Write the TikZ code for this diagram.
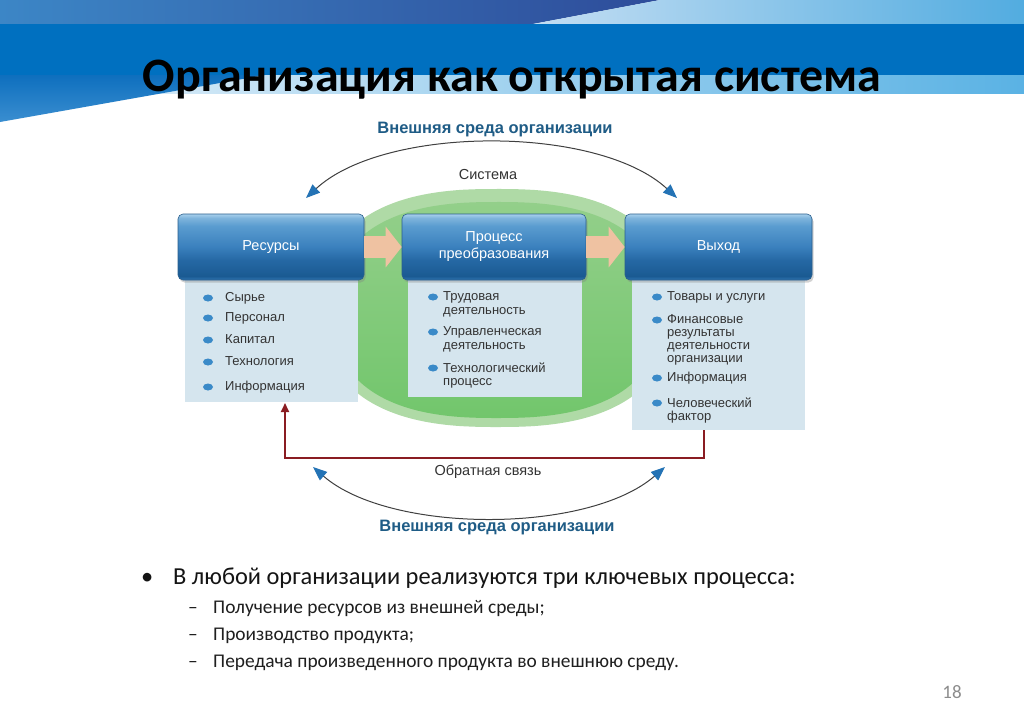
\documentclass[tikz,border=0pt]{standalone}
\usepackage{fontspec}
\setmainfont{Carlito}
\newfontfamily\arialf{Liberation Sans}
\usetikzlibrary{arrows.meta,shadows}
\definecolor{bandblue}{HTML}{0070C0}
\definecolor{topdarkL}{HTML}{3C86C6}
\definecolor{topdarkR}{HTML}{2E4C9A}
\definecolor{toplightL}{HTML}{C4DEF3}
\definecolor{toplightR}{HTML}{52ACE0}
\definecolor{stripL}{HTML}{E8F2FA}
\definecolor{stripR}{HTML}{5AB2E4}
\definecolor{triTop}{HTML}{0E6FBE}
\definecolor{triBot}{HTML}{3A8ED0}
\definecolor{envc}{HTML}{1F5C86}
\definecolor{arrowblue}{HTML}{2473B5}
\definecolor{greenrim}{HTML}{AFDAA6}
\definecolor{greentop}{HTML}{93CF8A}
\definecolor{greenbot}{HTML}{72C66C}
\definecolor{panelc}{HTML}{D5E5EE}
\definecolor{hdrline}{HTML}{2A5E8C}
\definecolor{hA}{HTML}{2E74B0}
\definecolor{hB}{HTML}{1A5A92}
\definecolor{hC}{HTML}{2568A4}
\definecolor{hD}{HTML}{3A80BD}
\definecolor{hE}{HTML}{5A9CD0}
\definecolor{hF}{HTML}{7FB4DC}
\definecolor{hG}{HTML}{A8D0EC}
\definecolor{peach}{HTML}{EFC2A2}
\definecolor{fbred}{HTML}{8A1C22}
\definecolor{txtc}{HTML}{333333}
\definecolor{bulc}{HTML}{3A8AC8}
\definecolor{pgnum}{HTML}{8C8C8C}
\pgfdeclareverticalshading{hdrshade}{100bp}{color(0bp)=(hA); color(25bp)=(hA); color(28bp)=(hB); color(40bp)=(hC); color(50bp)=(hD); color(66bp)=(hE); color(72bp)=(hF); color(75bp)=(hG); color(100bp)=(hG)}
\begin{document}
\begin{tikzpicture}[x=1pt,y=-1pt,
  hdr/.style={rounded corners=5pt, shade, shading=hdrshade, draw=hdrline, line width=0.6pt,
    minimum height=66pt, text=white, font=\arialf\fontsize{14.5}{17}\selectfont, align=center,
    drop shadow={shadow xshift=1.5pt,shadow yshift=-2.5pt,opacity=0.35}},
  panel/.style={fill=panelc, inner sep=0pt, draw=none},
  item/.style={font=\arialf\fontsize{13}{13.8}\selectfont, text=txtc, align=left, anchor=north west, inner sep=0pt},
  bul/.style={fill=bulc},
  envlbl/.style={font=\arialf\bfseries\fontsize{16.5}{18}\selectfont, text=envc},
  sublbl/.style={font=\arialf\fontsize{14.5}{16}\selectfont, text=txtc},
  envarc/.style={draw=black!75, line width=1pt,
    {Triangle[length=14pt,width=11pt,color=arrowblue]}-{Triangle[length=14pt,width=11pt,color=arrowblue]}},
  flow/.style={peach, line width=22pt, -{Triangle[length=16pt,width=40pt]}},
  fb/.style={fbred, line width=2pt, -{Triangle[length=9pt,width=8pt]}},
  mainb/.style={font=\fontsize{24.4}{28}\selectfont, text=black!92, anchor=base west, inner sep=0pt},
  subb/.style={font=\fontsize{19.4}{23}\selectfont, text=black!88, anchor=base west, inner sep=0pt}
]
\useasboundingbox (0,0) rectangle (1024,725);
\fill[white] (0,0) rectangle (1024,725);
% header
\shade[left color=topdarkL, right color=topdarkR] (0,0) -- (660,0) -- (533,24) -- (0,24) -- cycle;
\shade[left color=toplightL, right color=toplightR] (660,0) -- (1024,0) -- (1024,24) -- (533,24) -- cycle;
\fill[bandblue] (0,24) rectangle (1024,75);
\shade[left color=stripL, right color=stripR] (0,75) rectangle (1024,93);
\shade[top color=triTop, bottom color=triBot] (0,75) -- (265,75) -- (0,122) -- cycle;
\node[font=\bfseries\fontsize{48}{56}\selectfont, anchor=base, inner sep=0pt] (title) at (512,91) {Организация как открытая система};

% green system area (rounded superellipse)
\fill[greenrim] plot[domain=0.5:360.5, samples=181, smooth cycle]
  ({497+175*sign(cos(\x))*pow(abs(cos(\x)),0.8)}, {308+119*sign(sin(\x))*pow(abs(sin(\x)),0.8)});
\shade[top color=greentop, bottom color=greenbot] plot[domain=0.5:360.5, samples=181, smooth cycle]
  ({497+164*sign(cos(\x))*pow(abs(cos(\x)),0.8)}, {310+108*sign(sin(\x))*pow(abs(sin(\x)),0.8)});

% panels
\node[panel, minimum width=173pt, minimum height=132pt, anchor=north west] (resp) at (185,270) {};
\node[panel, minimum width=174pt, minimum height=127pt, anchor=north west] (procp) at (408,270) {};
\node[panel, minimum width=173pt, minimum height=160pt, anchor=north west] (outp) at (632,270) {};

% header boxes
\node[hdr, minimum width=186pt] (res) at (271,247) {Ресурсы};
\node[hdr, minimum width=184pt] (proc) at (494,247) {Процесс\\преобразования};
\node[hdr, minimum width=187pt] (out) at (718.5,247) {Выход};

% flow arrows
\draw[flow] (res.east) -- (proc.west);
\draw[flow] (proc.east) -- (out.west);

% left items
\foreach \yy/\tt in {298/Сырье, 318/Персонал, 340/Капитал, 362/Технология, 387/Информация}{
  \fill[bul] (208,\yy) ellipse [x radius=5pt, y radius=3.5pt];
  \node[item] at (225,\yy-5.8) {\tt};
}
% middle items
\fill[bul] (433,297) ellipse [x radius=5pt, y radius=3.5pt];
\node[item] (m1) at (443,297-5.8) {Трудовая\\деятельность};
\fill[bul] (433,332) ellipse [x radius=5pt, y radius=3.5pt];
\node[item] (m2) at (443,332-5.8) {Управленческая\\деятельность};
\fill[bul] (433,368) ellipse [x radius=5pt, y radius=3.5pt];
\node[item] (m3) at (443,368-5.8) {Технологический\\процесс};
% right items
\fill[bul] (657,297) ellipse [x radius=5pt, y radius=3.5pt];
\node[item] (r1) at (667,297-5.8) {Товары и услуги};
\fill[bul] (657,320) ellipse [x radius=5pt, y radius=3.5pt];
\node[item, font=\arialf\fontsize{13}{13}\selectfont] (r2) at (667,320-5.8) {Финансовые\\результаты\\деятельности\\организации};
\fill[bul] (657,378) ellipse [x radius=5pt, y radius=3.5pt];
\node[item] (r3) at (667,378-5.8) {Информация};
\fill[bul] (657,403) ellipse [x radius=5pt, y radius=3.5pt];
\node[item] (r4) at (667,403-5.8) {Человеческий\\фактор};

% feedback
\coordinate (fbR) at (704,430);
\coordinate (fbL) at (285,403);
\draw[fb] (fbR) |- (285,458) -- (fbL);
\node[sublbl] (fbl) at (488,472) {Обратная связь};

% environment arcs
\node[envlbl] (envtop) at (495,130) {Внешняя среда организации};
\node[sublbl] (sys) at (488,175) {Система};
\coordinate (tl) at (306,198);
\coordinate (tr) at (677,198);
\draw[envarc] (tl) .. controls (385,125) and (598,125) .. (tr);
\coordinate (bl) at (313,467);
\coordinate (br) at (665,467);
\draw[envarc] (bl) .. controls (390,534) and (588,534) .. (br);
\node[envlbl] (envbot) at (497,528) {Внешняя среда организации};

% bullet text
\node[mainb] (bt0) at (141,584) {•};
\node[mainb] (b0) at (173,584) {В любой организации реализуются три ключевых процесса:};
\node[subb] (d1) at (188,613) {–};
\node[subb] (b1) at (213,613) {Получение ресурсов из внешней среды;};
\node[subb] (d2) at (188,640) {–};
\node[subb] (b2) at (213,640) {Производство продукта;};
\node[subb] (d3) at (188,667) {–};
\node[subb] (b3) at (213,667) {Передача произведенного продукта во внешнюю среду.};
\node[font=\fontsize{19}{22}\selectfont, text=pgnum] (pg) at (952,692) {18};
\end{tikzpicture}
\end{document}
